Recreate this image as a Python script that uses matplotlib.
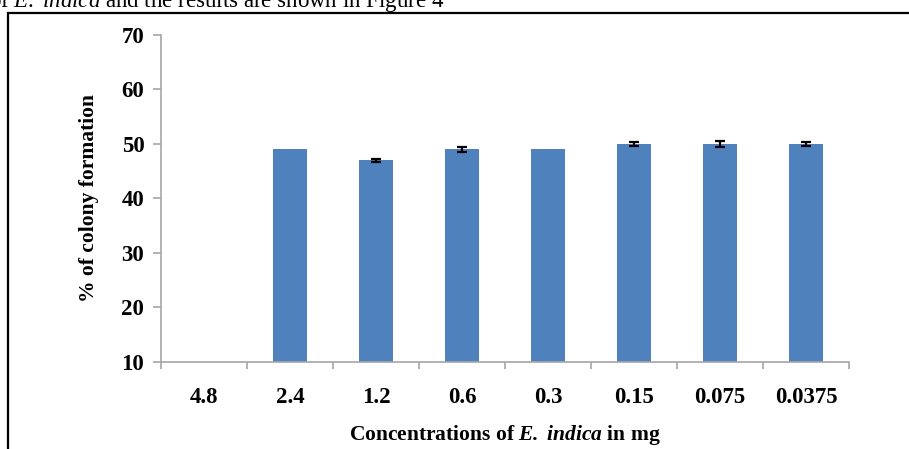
import matplotlib
matplotlib.use('Agg')
import matplotlib.pyplot as plt
from matplotlib.patches import Rectangle

# colony formation at each concentration of E. indica extract
concentrations = ['4.8', '2.4', '1.2', '0.6', '0.3', '0.15', '0.075', '0.0375']
colony_pct = [0, 49, 47, 49, 49, 50, 50, 50]
colony_err = [0, 0, 0.3, 0.4, 0, 0.3, 0.5, 0.4]
y_ticks = [10, 20, 30, 40, 50, 60, 70]

plt.rcParams['font.family'] = 'Liberation Serif'
plt.rcParams['mathtext.fontset'] = 'custom'
plt.rcParams['mathtext.rm'] = 'Liberation Serif'
plt.rcParams['mathtext.it'] = 'Liberation Serif:italic'
plt.rcParams['mathtext.bf'] = 'Liberation Serif:bold'
plt.rcParams['mathtext.bfit'] = 'Liberation Serif:italic:bold'

fig = plt.figure(figsize=(9.09, 4.49), dpi=100)
ax = fig.add_axes([0.1771, 0.1938, 0.7569, 0.7284])

x = list(range(len(concentrations)))
ax.bar(x, colony_pct, width=0.4, color='#4F81BD', zorder=2)
err_x = [i for i, e in zip(x, colony_err) if e > 0]
err_y = [v for v, e in zip(colony_pct, colony_err) if e > 0]
err_v = [e for e in colony_err if e > 0]
ax.errorbar(err_x, err_y, yerr=err_v, fmt='none', ecolor='black',
            elinewidth=1.6, capsize=3.8, capthick=1.6, zorder=3)

ax.set_xlim(-0.5, len(concentrations) - 0.5)
ax.set_ylim(10, 70)
ax.set_yticks(y_ticks)
ax.set_xticks(x)
ax.set_xticklabels(concentrations)
ax.set_xticks([i - 0.5 for i in range(len(concentrations) + 1)], minor=True)

for side in ['top', 'right']:
    ax.spines[side].set_visible(False)
for side in ['left', 'bottom']:
    ax.spines[side].set_color('#a6a6a6')
    ax.spines[side].set_linewidth(1.2)

ax.tick_params(axis='y', length=6, width=1.2, color='#a6a6a6', pad=6,
               labelsize=16.5)
ax.tick_params(axis='x', which='major', length=0, pad=18, labelsize=16.5)
ax.tick_params(axis='x', which='minor', length=5, width=1.2, color='#a6a6a6')
for lbl in ax.get_xticklabels() + ax.get_yticklabels():
    lbl.set_fontweight('bold')

ax.set_ylabel('% of colony formation', fontsize=15.5, fontweight='bold',
              labelpad=16)
ax.set_xlabel(r'Concentrations of $\mathbfit{E.\ indica}$ in mg',
              fontsize=15.5, fontweight='bold', labelpad=11)

# running text above the figure frame and the frame itself
fig.text(-0.012, 1.0 - 7.5 / 449,
         r'of $\mathit{E.\ indica}$ and the results are shown in Figure 4',
         fontsize=16.5, va='baseline', ha='left')
fig.patches.append(Rectangle((8 / 909, -0.1), 1.2, 1.1 - 13.5 / 449,
                             transform=fig.transFigure, fill=False,
                             edgecolor='black', linewidth=1.6, zorder=0))

fig.savefig('out.png', dpi=100)
